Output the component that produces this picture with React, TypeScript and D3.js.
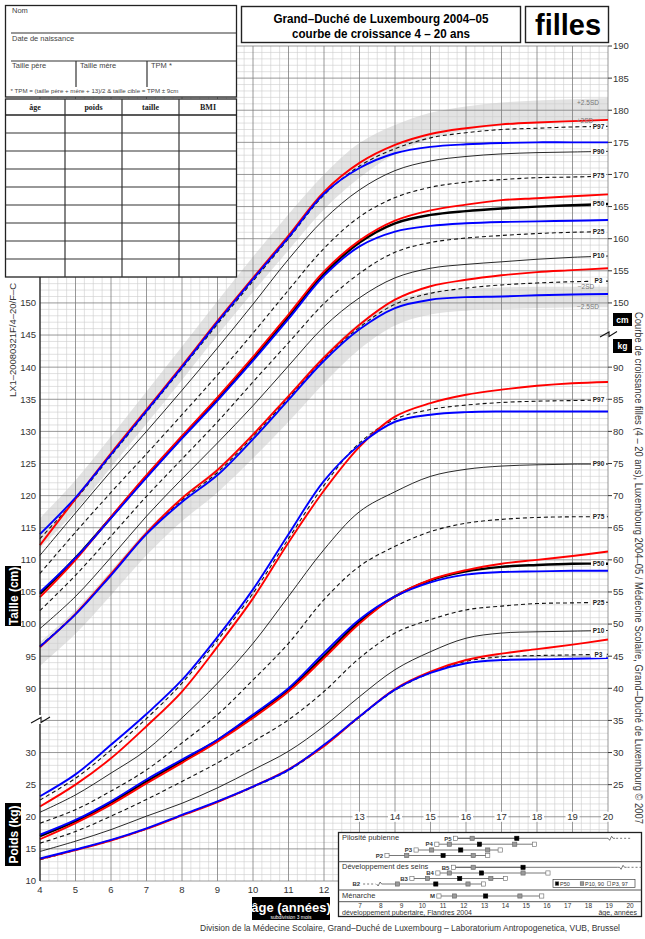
import React, { useRef, useEffect } from "react";
import * as d3 from "d3";

// ages (years) at which the curves were read
const ages = [4, 5, 6, 7, 8, 9, 10, 11, 12, 13, 14, 15, 16, 17, 18, 19, 20];

// height (cm), black percentiles
const hP97 = [113.3, 119.4, 126.2, 133.0, 139.8, 146.7, 153.4, 160.0, 166.8, 171.3, 174.0, 175.7, 176.5, 177.0, 177.2, 177.4, 177.5];
const hP90 = [110.7, 117.3, 123.8, 130.0, 136.4, 143.0, 149.8, 156.8, 163.0, 167.6, 170.6, 172.1, 172.8, 173.2, 173.4, 173.5, 173.6];
const hP75 = [107.9, 114.3, 120.5, 126.5, 132.6, 138.8, 145.3, 152.0, 158.5, 163.4, 166.4, 168.0, 168.8, 169.2, 169.5, 169.6, 169.75];
const hP50 = [104.7, 110.3, 116.6, 123.0, 129.1, 135.1, 141.3, 147.9, 154.5, 159.4, 162.4, 163.7, 164.3, 164.7, 165.0, 165.2, 165.4];
const hP25 = [102.1, 107.6, 113.7, 119.9, 125.7, 131.5, 137.7, 143.8, 149.9, 154.6, 157.9, 159.4, 160.1, 160.5, 160.8, 161.0, 161.1];
const hP10 = [99.3, 104.3, 110.4, 116.8, 122.6, 128.2, 134.0, 140.2, 146.3, 150.8, 153.9, 155.4, 156.0, 156.4, 156.8, 157.1, 157.3];
const hP3 = [96.6, 101.6, 107.7, 114.1, 119.3, 123.6, 129.2, 135.2, 141.3, 146.2, 149.8, 151.5, 152.3, 152.8, 153.1, 153.3, 153.4];
// height (cm), red reference
const hRedHigh = [112.3, 119.5, 126.6, 133.4, 140.2, 147.2, 153.9, 160.5, 167.3, 171.8, 174.6, 176.3, 177.2, 177.8, 178.1, 178.3, 178.5];
const hRedMid = [104.2, 110.0, 116.7, 123.2, 129.3, 135.3, 141.6, 148.2, 154.9, 159.7, 162.8, 164.4, 165.3, 166.0, 166.3, 166.6, 166.9];
const hRedLow = [96.4, 101.6, 107.8, 114.2, 119.6, 124.0, 129.5, 135.5, 141.5, 146.6, 150.5, 152.6, 153.6, 154.3, 154.8, 155.1, 155.4];
// height (cm), blue reference
const hBlueHigh = [114.0, 119.7, 126.4, 133.2, 140.0, 147.0, 153.7, 160.2, 167.0, 171.0, 173.3, 174.3, 174.7, 174.9, 175.0, 175.0, 175.0];
const hBlueMid = [105.0, 110.3, 116.5, 122.8, 128.9, 134.8, 141.0, 147.5, 154.2, 158.8, 161.1, 162.0, 162.4, 162.6, 162.7, 162.8, 162.9];
const hBlueLow = [96.5, 101.5, 107.6, 114.0, 119.0, 123.2, 128.8, 134.9, 141.0, 145.9, 149.2, 150.5, 150.9, 151.0, 151.2, 151.3, 151.4];
// grey SD bands (cm)
const sdPlus2 = [111.8, 117.6, 124.4, 131.2, 138.0, 145.0, 151.7, 158.2, 164.6, 169.5, 173.2, 175.6, 176.9, 177.6, 178.0, 178.2, 178.3];
const sdPlus25 = [116.5, 122.4, 129.2, 136.2, 143.2, 150.3, 157.2, 163.8, 170.0, 174.9, 177.7, 179.6, 180.6, 181.2, 181.5, 181.7, 181.9];
const sdMinus2 = [97.2, 102.2, 108.3, 114.6, 119.8, 124.3, 129.7, 135.7, 141.8, 146.9, 150.3, 151.7, 152.2, 152.4, 152.5, 152.5, 152.5];
const sdMinus25 = [93.5, 98.5, 104.5, 110.7, 116.0, 120.5, 125.8, 131.5, 137.5, 142.8, 146.5, 148.2, 148.8, 149.0, 149.2, 149.3, 149.3];

// weight (kg), black percentiles
const wP97 = [22.6, 26.0, 30.4, 35.3, 40.8, 47.5, 54.8, 63.3, 71.6, 78.2, 81.9, 83.4, 84.1, 84.5, 84.7, 84.8, 84.9];
const wP90 = [20.7, 23.4, 26.8, 30.4, 35.4, 40.8, 47.0, 54.3, 61.6, 67.5, 70.6, 73.0, 74.1, 74.6, 74.8, 74.9, 74.9];
const wP75 = [19.0, 21.1, 24.0, 27.3, 31.5, 35.9, 41.3, 47.0, 53.8, 59.0, 62.1, 64.4, 65.7, 66.3, 66.6, 66.7, 66.7];
const wP50 = [17.0, 19.3, 22.2, 25.5, 28.7, 31.9, 35.7, 39.8, 45.0, 50.4, 54.3, 56.8, 58.2, 58.9, 59.2, 59.4, 59.4];
const wP25 = [15.9, 17.7, 20.1, 22.7, 25.5, 28.4, 31.7, 35.1, 39.5, 44.7, 48.6, 50.7, 52.2, 52.8, 53.2, 53.3, 53.4];
const wP10 = [14.6, 16.2, 18.0, 20.1, 22.1, 24.5, 27.3, 30.2, 34.1, 38.7, 42.9, 45.7, 47.8, 48.6, 48.8, 48.9, 49.0];
const wP3 = [13.3, 14.8, 16.3, 18.1, 20.2, 22.3, 24.6, 27.2, 31.0, 35.5, 39.7, 42.4, 44.2, 44.9, 45.1, 45.2, 45.3];
// weight (kg), red reference
const wRedHigh = [21.6, 25.0, 29.1, 34.1, 39.5, 46.5, 54.0, 62.7, 70.8, 77.6, 82.3, 84.4, 85.7, 86.5, 87.1, 87.5, 87.7];
const wRedMid = [16.5, 19.0, 21.9, 25.2, 28.4, 31.7, 35.4, 39.5, 44.7, 50.1, 54.3, 56.9, 58.4, 59.4, 60.0, 60.6, 61.3];
const wRedLow = [13.4, 14.8, 16.3, 18.1, 20.2, 22.3, 24.7, 27.4, 31.0, 35.6, 39.9, 42.6, 44.4, 45.4, 46.1, 46.8, 47.6];
// weight (kg), blue reference
const wBlueHigh = [23.2, 26.6, 31.2, 36.0, 41.3, 48.0, 55.4, 64.0, 72.3, 77.9, 81.5, 82.6, 83.0, 83.1, 83.1, 83.1, 83.1];
const wBlueMid = [17.2, 19.5, 22.4, 25.8, 28.9, 32.0, 35.9, 40.0, 45.5, 50.7, 54.3, 56.5, 57.7, 58.1, 58.2, 58.3, 58.3];
const wBlueLow = [13.5, 14.9, 16.4, 18.2, 20.3, 22.4, 24.7, 27.3, 31.2, 35.6, 39.8, 42.4, 43.9, 44.4, 44.5, 44.6, 44.7];

const pctNames = ["P97", "P90", "P75", "P50", "P25", "P10", "P3"];

// pubertal stages: ages of P3, P10, P50, P90, P97 (null = off the scale)
const stageNames = ["P5", "P4", "P3", "P2", "B5", "B4", "B3", "B2", "M"];
const stageP5 = [11.6, 12.4, 14.55, null, null];
const stageP4 = [10.7, 11.3, 12.75, 14.45, 15.4];
const stageP3 = [9.7, 10.45, 11.85, 13.15, 13.75];
const stageP2 = [8.3, 9.25, 11.0, 12.45, 13.15];
const stageB5 = [11.5, 12.45, 14.85, null, null];
const stageB4 = [10.75, 11.3, 12.85, 14.85, 16.05];
const stageB3 = [9.5, 10.25, 11.8, 13.3, 14.0];
const stageB2 = [null, 8.8, 10.65, 12.2, 12.95];
const stageM = [10.8, 11.55, 13.05, 14.7, 15.75];
const legendAges = [7, 8, 9, 10, 11, 12, 13, 14, 15, 16, 17, 18, 19, 20];

const FONT = "'Liberation Sans', Arial, Helvetica, sans-serif";

const GrowthChart = () => {
  const ref = useRef<SVGSVGElement>(null);

  useEffect(() => {
    const svg = d3.select(ref.current);
    svg.selectAll("*").remove();

    const x = d3.scaleLinear().domain([4, 20]).range([40, 608]);
    const y = d3.scaleLinear().domain([60, 190]).range([881, 46]);
    const KG = 50; // weight kg is drawn on the same scale shifted by 50
    const smooth = d3.curveCatmullRom.alpha(0.5);

    svg.append("rect").attr("width", 645).attr("height", 939).attr("fill", "#fff");

    // grey SD bands
    const band = (lo: number[], hi: number[]) =>
      d3
        .area<number>()
        .x((_, i) => x(ages[i]))
        .y0((d) => y(d))
        .y1((_, i) => y(hi[i]))
        .curve(smooth)(lo);
    svg.append("path").attr("d", band(sdPlus2, sdPlus25)).attr("fill", "#e3e3e3");
    svg.append("path").attr("d", band(sdMinus25, sdMinus2)).attr("fill", "#e3e3e3");

    // grid
    const grid = svg.append("g");
    const minorX = d3.range(4, 20.001, 0.25).filter((a) => Math.abs(a - Math.round(a)) > 1e-6);
    const minorY = d3.range(60, 190.001, 1).filter((v) => v % 5 !== 0);
    grid
      .selectAll(".mx")
      .data(minorX)
      .join("line")
      .attr("x1", (d) => x(d))
      .attr("x2", (d) => x(d))
      .attr("y1", y(190))
      .attr("y2", y(60))
      .attr("stroke", "#cdcdcd")
      .attr("stroke-width", 0.6);
    grid
      .selectAll(".my")
      .data(minorY)
      .join("line")
      .attr("x1", x(4))
      .attr("x2", x(20))
      .attr("y1", (d) => y(d))
      .attr("y2", (d) => y(d))
      .attr("stroke", "#cdcdcd")
      .attr("stroke-width", 0.6);
    grid
      .selectAll(".Mx")
      .data(d3.range(4, 21))
      .join("line")
      .attr("x1", (d) => x(d))
      .attr("x2", (d) => x(d))
      .attr("y1", y(190))
      .attr("y2", y(60))
      .attr("stroke", "#7d7d7d")
      .attr("stroke-width", 0.8);
    grid
      .selectAll(".My")
      .data(d3.range(60, 191, 5))
      .join("line")
      .attr("x1", x(4))
      .attr("x2", x(20))
      .attr("y1", (d) => y(d))
      .attr("y2", (d) => y(d))
      .attr("stroke", "#7d7d7d")
      .attr("stroke-width", 0.8);

    // curves
    const curves = svg.append("g").attr("fill", "none");
    const draw = (vals: number[], off: number, color: string, w: number, dash?: string) => {
      const line = d3
        .line<number>()
        .x((_, i) => x(ages[i]))
        .y((d) => y(d + off))
        .curve(smooth);
      curves
        .append("path")
        .datum(vals)
        .attr("d", line)
        .attr("stroke", color)
        .attr("stroke-width", w)
        .attr("stroke-dasharray", dash || null);
    };
    const DASH = "4,3";
    [
      [hP97, wP97],
      [hP75, wP75],
      [hP25, wP25],
      [hP3, wP3],
    ].forEach(([h, w]) => {
      draw(h, 0, "#111", 1.1, DASH);
      draw(w, KG, "#111", 1.1, DASH);
    });
    [
      [hP90, wP90],
      [hP10, wP10],
    ].forEach(([h, w]) => {
      draw(h, 0, "#111", 0.9);
      draw(w, KG, "#111", 0.9);
    });
    draw(hP50, 0, "#000", 2.4);
    draw(wP50, KG, "#000", 2.4);
    [hRedHigh, hRedMid, hRedLow].forEach((h) => draw(h, 0, "#ff0000", 1.9));
    [wRedHigh, wRedMid, wRedLow].forEach((w) => draw(w, KG, "#ff0000", 1.9));
    [hBlueHigh, hBlueMid, hBlueLow].forEach((h) => draw(h, 0, "#0000ff", 1.9));
    [wBlueHigh, wBlueMid, wBlueLow].forEach((w) => draw(w, KG, "#0000ff", 1.9));

    // percentile labels at the right end
    const pctH = [hP97, hP90, hP75, hP50, hP25, hP10, hP3];
    const pctW = [wP97, wP90, wP75, wP50, wP25, wP10, wP3];
    const lab = svg.append("g").attr("font-family", FONT).attr("font-size", 6.5).attr("font-weight", "bold");
    const putLabel = (name: string, v: number) => {
      lab.append("rect").attr("x", 591).attr("y", y(v) - 3.5).attr("width", 15).attr("height", 7).attr("fill", "#fff");
      lab.append("text").attr("x", 598.5).attr("y", y(v) + 2.3).attr("text-anchor", "middle").attr("fill", "#222").text(name);
    };
    pctNames.forEach((n, i) => {
      putLabel(n, pctH[i][ages.length - 1]);
      putLabel(n, pctW[i][ages.length - 1] + KG);
    });
    const sdLab = svg.append("g").attr("font-family", FONT).attr("font-size", 6.5).attr("fill", "#777").attr("text-anchor", "middle");
    const last = ages.length - 1;
    sdLab.append("text").attr("x", 588).attr("y", y(sdPlus25[last]) + 7).text("+2.5SD");
    sdLab.append("text").attr("x", 585).attr("y", y(sdPlus2[last]) + 2.3).text("+2SD");
    sdLab.append("text").attr("x", 586).attr("y", y(sdMinus2[last]) + 2.3).text("\u22122SD");
    sdLab.append("text").attr("x", 588).attr("y", y(sdMinus25[last]) + 1.5).text("\u22122.5SD");

    // axes text
    const ax = svg.append("g").attr("font-family", FONT).attr("font-size", 9.5).attr("fill", "#333");
    ax.append("line").attr("x1", x(4)).attr("x2", x(4)).attr("y1", 277).attr("y2", y(60)).attr("stroke", "#111").attr("stroke-width", 1.1);
    d3.range(90, 151, 5).forEach((v) => {
      ax.append("text").attr("x", 36).attr("y", y(v) + 3.4).attr("text-anchor", "end").text(v);
    });
    d3.range(10, 31, 5).forEach((w) => {
      ax.append("text").attr("x", 36).attr("y", y(w + KG) + 3.4).attr("text-anchor", "end").text(w);
    });
    d3.range(150, 191, 5).forEach((v) => {
      ax.append("line").attr("x1", 608).attr("x2", 612).attr("y1", y(v)).attr("y2", y(v)).attr("stroke", "#333");
      ax.append("text").attr("x", 613).attr("y", y(v) + 3.4).text(v);
    });
    d3.range(25, 91, 5).forEach((w) => {
      ax.append("line").attr("x1", 608).attr("x2", 612).attr("y1", y(w + KG)).attr("y2", y(w + KG)).attr("stroke", "#333");
      ax.append("text").attr("x", 613).attr("y", y(w + KG) + 3.4).text(w);
    });
    d3.range(4, 13).forEach((a) => {
      ax.append("text").attr("x", x(a)).attr("y", 893).attr("text-anchor", "middle").text(a);
    });
    d3.range(13, 21).forEach((a) => {
      ax.append("rect").attr("x", x(a) - 7).attr("y", y(70) - 5).attr("width", 14).attr("height", 10).attr("fill", "#fff");
      ax.append("text").attr("x", x(a)).attr("y", y(70) + 3.4).attr("text-anchor", "middle").text(a);
    });

    // axis breaks
    const brk = svg.append("g").attr("stroke", "#111").attr("fill", "none").attr("stroke-width", 1.1);
    brk.append("rect").attr("x", 38).attr("y", 715).attr("width", 4).attr("height", 9).attr("fill", "#fff").attr("stroke", "none");
    brk.append("path").attr("d", "M31,723 L41,717.5 L41,722.5 L50,717");
    brk.append("path").attr("d", "M600,337 L609,332 L609,336.5 L617,331.5");

    // cm / kg boxes
    const unit = svg.append("g").attr("font-family", FONT).attr("font-weight", "bold").attr("font-size", 8.5);
    unit.append("rect").attr("x", 613).attr("y", 313).attr("width", 19).attr("height", 13).attr("fill", "#000");
    unit.append("text").attr("x", 622.5).attr("y", 322.5).attr("text-anchor", "middle").attr("fill", "#fff").text("cm");
    unit.append("rect").attr("x", 613).attr("y", 339).attr("width", 19).attr("height", 14).attr("fill", "#000");
    unit.append("text").attr("x", 622.5).attr("y", 349).attr("text-anchor", "middle").attr("fill", "#fff").text("kg");

    // vertical side texts
    const side = svg.append("g").attr("font-family", FONT);
    side
      .append("text")
      .attr("transform", "translate(15.5,397) rotate(-90)")
      .attr("font-size", 9.5)
      .attr("fill", "#333")
      .attr("textLength", 114)
      .attr("lengthAdjust", "spacingAndGlyphs")
      .text("LX1\u201320080321F/4\u201320/F\u2013C");
    side
      .append("text")
      .attr("transform", "translate(635,312) rotate(90)")
      .attr("font-size", 10.5)
      .attr("fill", "#333")
      .attr("textLength", 512)
      .attr("lengthAdjust", "spacingAndGlyphs")
      .text("Courbe de croissance filles (4 \u2013 20 ans), Luxembourg 2004\u201305 / M\u00e9decine Scolaire, Grand\u2013Duch\u00e9 de Luxembourg \u00a9 2007");
    side.append("rect").attr("x", 5).attr("y", 566).attr("width", 16).attr("height", 60).attr("fill", "#000");
    side
      .append("text")
      .attr("transform", "translate(17.5,596) rotate(-90)")
      .attr("text-anchor", "middle")
      .attr("font-size", 12)
      .attr("font-weight", "bold")
      .attr("fill", "#fff")
      .text("Taille (cm)");
    side.append("rect").attr("x", 5).attr("y", 803).attr("width", 16).attr("height", 63).attr("fill", "#000");
    side
      .append("text")
      .attr("transform", "translate(17.5,834.5) rotate(-90)")
      .attr("text-anchor", "middle")
      .attr("font-size", 12)
      .attr("font-weight", "bold")
      .attr("fill", "#fff")
      .text("Poids (kg)");

    // age box
    side.append("rect").attr("x", 252).attr("y", 897).attr("width", 78).attr("height", 23).attr("fill", "#000");
    side
      .append("text")
      .attr("x", 291)
      .attr("y", 911.5)
      .attr("text-anchor", "middle")
      .attr("font-size", 13)
      .attr("font-weight", "bold")
      .attr("fill", "#fff")
      .text("\u00e2ge (ann\u00e9es)");
    side.append("text").attr("x", 291).attr("y", 918.5).attr("text-anchor", "middle").attr("font-size", 5).attr("fill", "#fff").text("subdivision 3 mois");
    side
      .append("text")
      .attr("x", 200)
      .attr("y", 931)
      .attr("font-size", 8.5)
      .attr("fill", "#333")
      .attr("textLength", 420)
      .attr("lengthAdjust", "spacingAndGlyphs")
      .text("Division de la M\u00e9decine Scolaire, Grand\u2013Duch\u00e9 de Luxembourg  \u2013  Laboratorium Antropogenetica, VUB, Brussel");

    // title boxes
    const tb = svg.append("g").attr("font-family", FONT).attr("font-weight", "bold");
    tb.append("rect").attr("x", 241.5).attr("y", 6.5).attr("width", 279).attr("height", 36).attr("fill", "#fff").attr("stroke", "#222").attr("stroke-width", 1.4);
    tb.append("text").attr("x", 381).attr("y", 23).attr("text-anchor", "middle").attr("font-size", 12.5).attr("textLength", 215).attr("lengthAdjust", "spacingAndGlyphs").text("Grand\u2013Duch\u00e9 de Luxembourg 2004\u201305");
    tb.append("text").attr("x", 381).attr("y", 37.5).attr("text-anchor", "middle").attr("font-size", 12.5).attr("textLength", 178).attr("lengthAdjust", "spacingAndGlyphs").text("courbe de croissance 4 \u2013 20 ans");
    tb.append("rect").attr("x", 525.5).attr("y", 6.5).attr("width", 83).attr("height", 36).attr("fill", "#fff").attr("stroke", "#222").attr("stroke-width", 1.4);
    tb.append("text").attr("x", 568).attr("y", 35).attr("text-anchor", "middle").attr("font-size", 29).attr("textLength", 66).attr("lengthAdjust", "spacingAndGlyphs").text("filles");

    // patient form
    const fm = svg.append("g").attr("font-family", FONT).attr("font-size", 7.5).attr("fill", "#444");
    fm.append("rect").attr("x", 5.5).attr("y", 5.5).attr("width", 231).attr("height", 91.5).attr("fill", "#fff").attr("stroke", "#222").attr("stroke-width", 1.3);
    fm.append("text").attr("x", 12).attr("y", 13).text("Nom");
    fm.append("line").attr("x1", 11).attr("x2", 236.5).attr("y1", 33).attr("y2", 33).attr("stroke", "#333").attr("stroke-width", 1.2);
    fm.append("text").attr("x", 12).attr("y", 40.5).text("Date de naissance");
    fm.append("line").attr("x1", 11).attr("x2", 236.5).attr("y1", 61).attr("y2", 61).attr("stroke", "#333").attr("stroke-width", 1.2);
    fm.append("text").attr("x", 12).attr("y", 67.5).text("Taille p\u00e8re");
    fm.append("text").attr("x", 80).attr("y", 67.5).text("Taille m\u00e8re");
    fm.append("text").attr("x", 151).attr("y", 67.5).text("TPM *");
    [76, 147].forEach((cx) =>
      fm.append("line").attr("x1", cx).attr("x2", cx).attr("y1", 61).attr("y2", 87).attr("stroke", "#333").attr("stroke-width", 1.2)
    );
    fm.append("text")
      .attr("x", 10.5)
      .attr("y", 93)
      .attr("font-size", 5)
      .attr("textLength", 168)
      .attr("lengthAdjust", "spacingAndGlyphs")
      .text("* TPM = (taille p\u00e8re + m\u00e8re + 13)/2   &   taille cible = TPM \u00b1 9cm");
    fm.append("rect").attr("x", 5.5).attr("y", 99).attr("width", 231).attr("height", 178).attr("fill", "#fff").attr("stroke", "#222").attr("stroke-width", 1.3);
    fm.append("line").attr("x1", 5.5).attr("x2", 236.5).attr("y1", 115).attr("y2", 115).attr("stroke", "#222").attr("stroke-width", 1.3);
    d3.range(133, 260, 18).forEach((ry) =>
      fm.append("line").attr("x1", 5.5).attr("x2", 236.5).attr("y1", ry).attr("y2", ry).attr("stroke", "#333").attr("stroke-width", 1.2)
    );
    [65, 122, 179].forEach((cx) =>
      fm.append("line").attr("x1", cx).attr("x2", cx).attr("y1", 99).attr("y2", 277).attr("stroke", "#333").attr("stroke-width", 1.2)
    );
    ["\u00e2ge", "poids", "taille", "BMI"].forEach((t, i) =>
      fm
        .append("text")
        .attr("x", [35, 93.5, 150.5, 208][i])
        .attr("y", 109.5)
        .attr("text-anchor", "middle")
        .attr("font-family", "'Liberation Serif', serif")
        .attr("font-weight", "bold")
        .attr("font-size", 8)
        .attr("fill", "#222")
        .text(t)
    );

    // pubertal development legend
    const xl = d3.scaleLinear().domain([7, 20]).range([360, 630]);
    const lg = svg.append("g").attr("font-family", FONT).attr("fill", "#333");
    lg.append("rect").attr("x", 338.5).attr("y", 832.5).attr("width", 303).attr("height", 84).attr("fill", "#fff").attr("stroke", "#222").attr("stroke-width", 1.3);
    [861.7, 890, 901.7].forEach((sy) =>
      lg.append("line").attr("x1", 338.5).attr("x2", 641.5).attr("y1", sy).attr("y2", sy).attr("stroke", "#444").attr("stroke-width", 0.9)
    );
    lg.append("text").attr("x", 342).attr("y", 840).attr("font-size", 7.5).text("Pilosit\u00e9 pubienne");
    lg.append("text").attr("x", 342).attr("y", 869).attr("font-size", 7.5).text("D\u00e9veloppement des seins");
    lg.append("text").attr("x", 342).attr("y", 898).attr("font-size", 7.5).text("M\u00e9narche");
    legendAges.forEach((a) =>
      lg.append("text").attr("x", xl(a)).attr("y", 907.5).attr("text-anchor", "middle").attr("font-size", 6.5).text(a)
    );
    lg.append("text").attr("x", 342).attr("y", 914.5).attr("font-size", 7).text("d\u00e9veloppement pubertaire, Flandres 2004");
    lg.append("text").attr("x", 637).attr("y", 914.5).attr("text-anchor", "end").attr("font-size", 7).text("\u00e2ge, ann\u00e9es");

    const stages = [stageP5, stageP4, stageP3, stageP2, stageB5, stageB4, stageB3, stageB2, stageM];
    const rowY = [838.3, 844.2, 850, 855.5, 867.3, 873, 878.5, 884, 896];
    const fills = ["#fff", "#999", "#000", "#999", "#fff"];
    stages.forEach((st, r) => {
      const yy = rowY[r];
      const known = st.filter((v) => v !== null) as number[];
      const a0 = known[0];
      const a1 = known[known.length - 1];
      if (st[4] === null) {
        // open-ended: line runs off towards the right edge
        const end = stageNames[r] === "P5" ? 18.85 : 19.4;
        lg.append("line").attr("x1", xl(a0)).attr("x2", xl(end)).attr("y1", yy).attr("y2", yy).attr("stroke", "#555").attr("stroke-width", 0.8);
        lg.append("path")
          .attr("d", `M${xl(end)},${yy} l2,0 l1.5,2 l2,-4 l1.5,2 l2,0`)
          .attr("fill", "none")
          .attr("stroke", "#555")
          .attr("stroke-width", 0.8);
        lg.append("line").attr("x1", xl(end) + 10).attr("x2", xl(end) + 25).attr("y1", yy).attr("y2", yy).attr("stroke", "#555").attr("stroke-width", 0.8).attr("stroke-dasharray", "2,2");
      }
      if (st[0] === null) {
        lg.append("line").attr("x1", xl(7.15)).attr("x2", xl(7.75)).attr("y1", yy).attr("y2", yy).attr("stroke", "#555").attr("stroke-width", 0.8).attr("stroke-dasharray", "2,2");
        lg.append("path")
          .attr("d", `M${xl(7.8)},${yy} l1.5,2 l2,-4 l1.5,2`)
          .attr("fill", "none")
          .attr("stroke", "#555")
          .attr("stroke-width", 0.8);
        lg.append("line").attr("x1", xl(7.8) + 5).attr("x2", xl(a0)).attr("y1", yy).attr("y2", yy).attr("stroke", "#555").attr("stroke-width", 0.8);
      }
      lg.append("line").attr("x1", xl(a0)).attr("x2", xl(a1)).attr("y1", yy).attr("y2", yy).attr("stroke", "#555").attr("stroke-width", 0.8);
      st.forEach((v, k) => {
        if (v === null) return;
        lg.append("rect")
          .attr("x", xl(v) - 2.1)
          .attr("y", yy - 2.1)
          .attr("width", 4.2)
          .attr("height", 4.2)
          .attr("fill", fills[k])
          .attr("stroke", k === 2 ? "#000" : "#666")
          .attr("stroke-width", 0.6);
      });
      const labX = st[0] === null ? xl(7.1) - 2 : xl(a0) - 4;
      lg.append("text")
        .attr("x", labX)
        .attr("y", yy + 2.2)
        .attr("text-anchor", "end")
        .attr("font-size", 6)
        .attr("font-weight", "bold")
        .text(stageNames[r]);
    });
    // key
    lg.append("rect").attr("x", 553).attr("y", 879.5).attr("width", 82).attr("height", 8).attr("fill", "#fff").attr("stroke", "#444").attr("stroke-width", 0.7);
    const keyItems = [
      { x: 557, fill: "#000", t: "P50" },
      { x: 582, fill: "#999", t: "P10, 90" },
      { x: 609, fill: "#fff", t: "P3, 97" },
    ];
    keyItems.forEach((k) => {
      lg.append("rect").attr("x", k.x - 1.8).attr("y", 881.8).attr("width", 3.6).attr("height", 3.6).attr("fill", k.fill).attr("stroke", "#555").attr("stroke-width", 0.5);
      lg.append("text").attr("x", k.x + 3).attr("y", 885.8).attr("font-size", 5.5).text(k.t);
    });
  }, []);

  return (
    <svg
      ref={ref}
      width={645}
      height={939}
      style={{ position: "absolute", left: 0, top: 0, fontFamily: FONT }}
    />
  );
};

export default function App() {
  return <GrowthChart />;
}
